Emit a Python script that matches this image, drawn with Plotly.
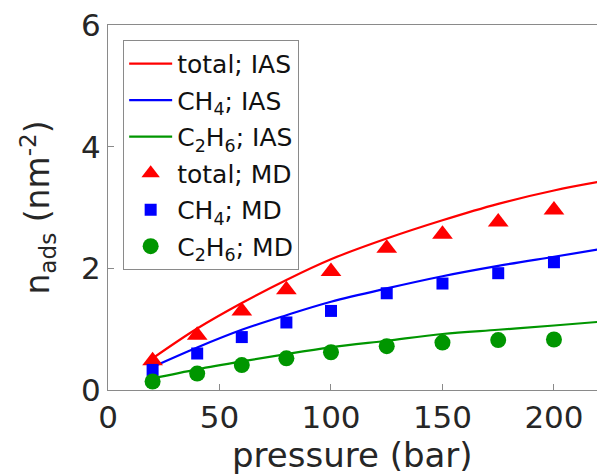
import plotly.graph_objects as go

# IAS curves
p_ias = [20, 40, 60, 80, 100, 125, 150, 175, 200, 220]
total_ias = [0.52, 1.01, 1.43, 1.81, 2.15, 2.49, 2.79, 3.06, 3.28, 3.42]
ch4_ias = [0.38, 0.70, 0.99, 1.23, 1.45, 1.67, 1.87, 2.04, 2.19, 2.31]
c2h6_ias = [0.19, 0.34, 0.47, 0.59, 0.70, 0.81, 0.92, 0.99, 1.06, 1.12]

# MD points
p_md = [20, 40, 60, 80, 100, 125, 150, 175, 200]
total_md = [0.48, 0.90, 1.30, 1.65, 1.95, 2.33, 2.56, 2.76, 2.96]
ch4_md = [0.33, 0.60, 0.87, 1.11, 1.30, 1.59, 1.75, 1.92, 2.10]
c2h6_md = [0.14, 0.27, 0.41, 0.52, 0.62, 0.72, 0.78, 0.82, 0.83]

x_ticks = [0, 50, 100, 150, 200]
y_ticks = [0, 2, 4, 6]

RED = "#ff0000"
BLUE = "#0000ff"
GREEN = "#009600"
TXT = "#262626"

fig = go.Figure()
fig.add_trace(go.Scatter(x=p_ias, y=total_ias, mode="lines", line=dict(color=RED, width=2.2, shape="spline"),
                         name="total; IAS", legendgroup="a"))
fig.add_trace(go.Scatter(x=p_ias, y=ch4_ias, mode="lines", line=dict(color=BLUE, width=2.2, shape="spline"),
                         name="CH<sub>4</sub>; IAS", legendgroup="b"))
fig.add_trace(go.Scatter(x=p_ias, y=c2h6_ias, mode="lines", line=dict(color=GREEN, width=2.2, shape="spline"),
                         name="C<sub>2</sub>H<sub>6</sub>; IAS", legendgroup="c"))
fig.add_trace(go.Scatter(x=p_md, y=total_md, mode="markers",
                         marker=dict(symbol="triangle-up", size=18, color=RED),
                         name="total; MD", legendgroup="d"))
fig.add_trace(go.Scatter(x=p_md, y=ch4_md, mode="markers",
                         marker=dict(symbol="square", size=12, color=BLUE),
                         name="CH<sub>4</sub>; MD", legendgroup="e"))
fig.add_trace(go.Scatter(x=p_md, y=c2h6_md, mode="markers",
                         marker=dict(symbol="circle", size=16, color=GREEN),
                         name="C<sub>2</sub>H<sub>6</sub>; MD", legendgroup="f"))

axis_common = dict(
    showgrid=False, zeroline=False, showline=True, linecolor="#8a8a8a", linewidth=1,
    ticks="inside", ticklen=6, tickcolor="#8a8a8a", tickwidth=1, automargin=False,
    tickfont=dict(family="DejaVu Sans", size=31, color=TXT),
)

fig.update_layout(
    width=597, height=476,
    margin=dict(l=108, r=0, t=25, b=86),
    paper_bgcolor="white", plot_bgcolor="white",
    font=dict(family="DejaVu Sans", color=TXT),
    xaxis=dict(range=[0, 219.3], tickvals=x_ticks, mirror=True, **axis_common),
    yaxis=dict(range=[0, 6], tickvals=y_ticks, mirror=False, **axis_common),
    legend=dict(x=0.031, y=0.959, xanchor="left", yanchor="top",
                bgcolor="white", bordercolor="#8a8a8a", borderwidth=1,
                font=dict(family="DejaVu Sans", size=25, color="#111111"),
                tracegroupgap=1, itemwidth=43),
    showlegend=True,
    annotations=[
        dict(text="pressure (bar)", xref="paper", yref="paper", x=0.5, y=-0.178,
             xanchor="center", yanchor="middle", showarrow=False,
             font=dict(family="DejaVu Sans", size=34, color=TXT)),
        dict(text="n<sub>ads</sub> (nm<sup>-2</sup>)", xref="paper", yref="paper", x=-0.143, y=0.5,
             xanchor="center", yanchor="middle", textangle=-90, showarrow=False,
             font=dict(family="DejaVu Sans", size=33, color=TXT)),
    ],
)

fig.write_html("out.html", config={"displayModeBar": False},
               post_script="document.body.style.margin='0';document.body.style.overflow='hidden';")
